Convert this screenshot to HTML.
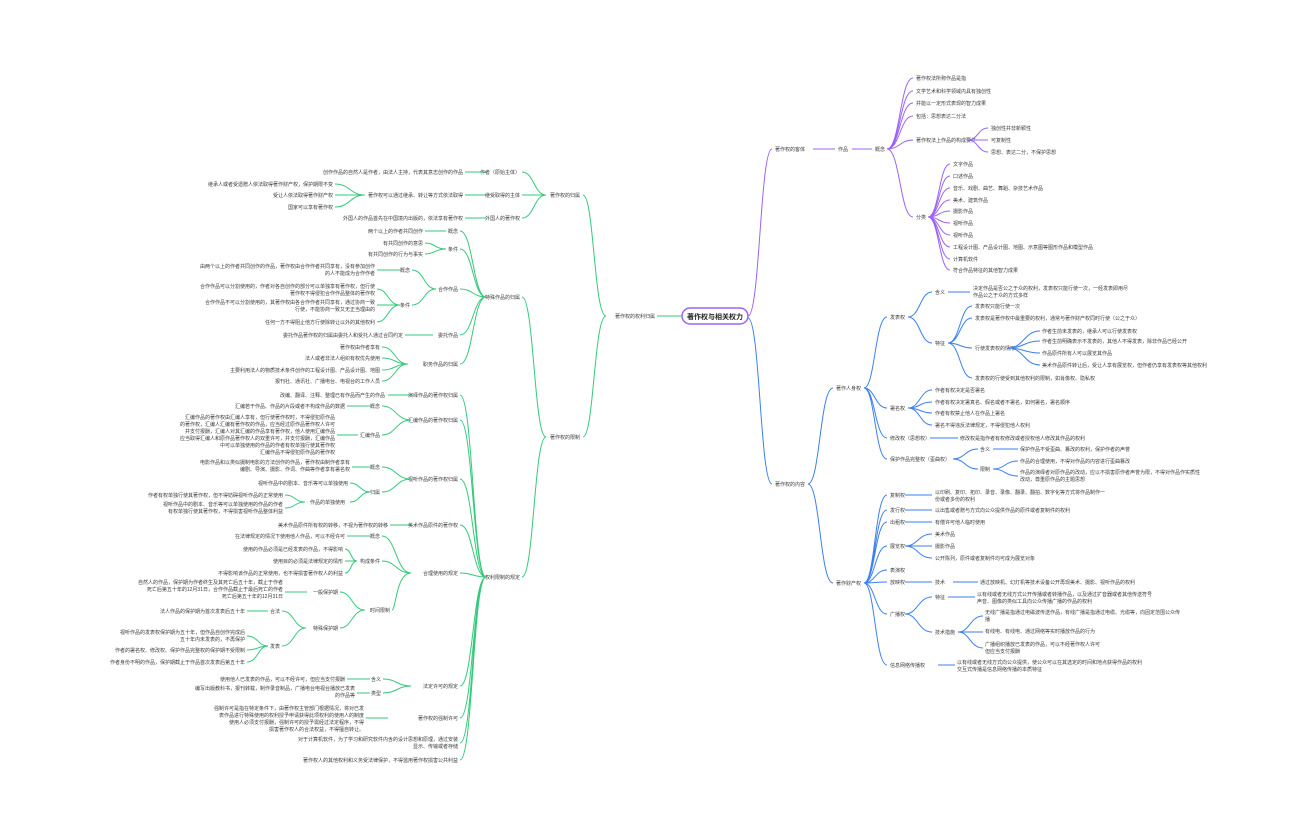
<!DOCTYPE html>
<html><head><meta charset="utf-8">
<style>
html,body{margin:0;padding:0;background:#fff;}
svg{display:block}
text{font-family:"Liberation Sans","Noto Sans CJK SC",sans-serif;font-size:5px;fill:#3a3a3a}
.e{text-anchor:end}
.p{fill:none;stroke:#9b63f5;stroke-width:1}
.b{fill:none;stroke:#3b7ff2;stroke-width:1}
.g{fill:none;stroke:#34c97b;stroke-width:1}
</style></head><body>
<svg width="1296" height="840" viewBox="0 0 1296 840" xmlns="http://www.w3.org/2000/svg">
<!-- ROOT -->
<rect x="682" y="308" width="66" height="16" rx="8" fill="#fff" stroke="#9b63f5" stroke-width="1.5"/>
<text x="715" y="319" style="font-size:7px;font-weight:bold;text-anchor:middle;fill:#222">著作权与相关权力</text>

<!-- PURPLE -->
<path class="p" d="M748 316 C760 316 760 149 772 149"/>
<text x="775" y="151">著作权的客体</text>
<path class="p" d="M813 149 H835 M852 149 H872"/>
<text x="838" y="151">作品</text>
<text x="875" y="151">概念</text>
<path class="p" d="M887 149 C900 149 900 78 913 78 M887 149 C900 149 900 91 913 91 M887 149 C900 149 900 103 913 103 M887 149 C900 149 900 116 913 116 M887 149 C900 149 900 140 913 140 M887 149 C900 149 900 217 913 217"/>
<text x="916" y="80">著作权法所称作品是指</text>
<text x="916" y="93">文学艺术和科学领域内具有独创性</text>
<text x="916" y="105">并能以一定形式表现的智力成果</text>
<text x="916" y="118">包括：思想表达二分法</text>
<text x="916" y="142">著作权法上作品的构成要件</text>
<path class="p" d="M968 140 C978 140 978 128 988 128 M968 140 H988 M968 140 C978 140 978 152 988 152"/>
<text x="991" y="130">独创性并非新颖性</text>
<text x="991" y="142">可复制性</text>
<text x="991" y="154">思想、表达二分，不保护思想</text>
<text x="916" y="219">分类</text>
<path class="p" d="M928 217 C939 217 939 164 950 164 M928 217 C939 217 939 176 950 176 M928 217 C939 217 939 188 950 188 M928 217 C939 217 939 200 950 200 M928 217 C939 217 939 211 950 211 M928 217 C939 217 939 223 950 223 M928 217 C939 217 939 235 950 235 M928 217 C939 217 939 247 950 247 M928 217 C939 217 939 259 950 259 M928 217 C939 217 939 270 950 270"/>
<text x="953" y="166">文字作品</text>
<text x="953" y="178">口述作品</text>
<text x="953" y="190">音乐、戏剧、曲艺、舞蹈、杂技艺术作品</text>
<text x="953" y="202">美术、建筑作品</text>
<text x="953" y="213">摄影作品</text>
<text x="953" y="225">视听作品</text>
<text x="953" y="237">视听作品</text>
<text x="953" y="249">工程设计图、产品设计图、地图、示意图等图形作品和模型作品</text>
<text x="953" y="261">计算机软件</text>
<text x="953" y="272">符合作品特征的其他智力成果</text>

<!-- BLUE -->
<path class="b" d="M748 318 C760 318 760 484 772 484"/>
<text x="775" y="486">著作权的内容</text>
<path class="b" d="M808 484 C820 484 820 388 833 388 M808 484 C820 484 820 583 833 583"/>
<text x="836" y="390">著作人身权</text>
<path class="b" d="M864 388 C875 388 875 317 887 317 M864 388 C875 388 875 408 887 408 M864 388 C875 388 875 438 887 438 M864 388 C875 388 875 459 887 459"/>
<text x="890" y="319">发表权</text>
<path class="b" d="M908 317 C920 317 920 292 932 292 M908 317 C920 317 920 343 932 343"/>
<text x="935" y="294">含义</text>
<path class="b" d="M948 292 H970"/>
<text x="973" y="290">决定作品是否公之于众的权利，发表权只能行使一次，一经发表即用尽</text>
<text x="973" y="297">作品公之于众的方式多样</text>
<text x="935" y="345">特征</text>
<path class="b" d="M948 343 C960 343 960 306 972 306 M948 343 C960 343 960 318 972 318 M948 343 C960 343 960 348 972 348 M948 343 C960 343 960 378 972 378"/>
<text x="975" y="308">发表权只能行使一次</text>
<text x="975" y="320">发表权是著作权中最重要的权利，通常与著作财产权同时行使（公之于众）</text>
<text x="975" y="350">行使发表权的情形</text>
<path class="b" d="M1008 348 C1024 348 1024 331 1040 331 M1008 348 C1024 348 1024 341 1040 341 M1008 348 C1024 348 1024 353 1040 353 M1008 348 C1024 348 1024 365 1040 365"/>
<text x="1042" y="333">作者生前未发表的，继承人可以行使发表权</text>
<text x="1042" y="343">作者生前明确表示不发表的，其他人不得发表，除非作品已经公开</text>
<text x="1042" y="355">作品原件所有人可以展览其作品</text>
<text x="1042" y="367">美术作品原件转让后，受让人享有展览权，但作者仍享有发表权等其他权利</text>
<text x="975" y="380">发表权的行使受到其他权利的限制，如肖像权、隐私权</text>
<text x="890" y="410">署名权</text>
<path class="b" d="M908 408 C920 408 920 390 932 390 M908 408 C920 408 920 402 932 402 M908 408 C920 408 920 413 932 413 M908 408 C920 408 920 425 932 425"/>
<text x="935" y="392">作者有权决定是否署名</text>
<text x="935" y="404">作者有权决定署真名、假名或者不署名，如何署名，署名顺序</text>
<text x="935" y="415">作者有权禁止他人在作品上署名</text>
<text x="935" y="427">署名不得违反法律规定，不得侵犯他人权利</text>
<text x="890" y="440">修改权（思想权）</text>
<path class="b" d="M930 438 H958"/>
<text x="960" y="440">修改权是指作者有权修改或者授权他人修改其作品的权利</text>
<text x="890" y="461">保护作品完整权（歪曲权）</text>
<path class="b" d="M953 459 C965 459 965 449 978 449 M953 459 C965 459 965 469 978 469"/>
<text x="980" y="451">含义</text>
<path class="b" d="M993 449 H1018"/>
<text x="1020" y="451">保护作品不受歪曲、篡改的权利，保护作者的声誉</text>
<text x="980" y="471">限制</text>
<path class="b" d="M993 469 C1005 469 1005 461 1018 461 M993 469 C1005 469 1005 476 1018 476"/>
<text x="1020" y="463">作品的合理使用，不得对作品的内容进行歪曲篡改</text>
<text x="1020" y="474">作品的演绎者对原作品的改动，应以不损害原作者声誉为限，不得对作品作实质性</text>
<text x="1020" y="481">改动，尊重原作品的主题思想</text>

<text x="836" y="585">著作财产权</text>
<path class="b" d="M864 583 C875 583 875 495 887 495 M864 583 C875 583 875 510 887 510 M864 583 C875 583 875 522 887 522 M864 583 C875 583 875 546 887 546 M864 583 C875 583 875 570 887 570 M864 583 C875 583 875 582 887 582 M864 583 C875 583 875 614 887 614 M864 583 C875 583 875 665 887 665"/>
<text x="890" y="497">复制权</text>
<path class="b" d="M905 495 H932"/>
<text x="935" y="494">以印刷、复印、拓印、录音、录像、翻录、翻拍、数字化等方式将作品制作一</text>
<text x="935" y="501">份或者多份的权利</text>
<text x="890" y="512">发行权</text>
<path class="b" d="M905 510 H932"/>
<text x="935" y="512">以出售或者赠与方式向公众提供作品的原件或者复制件的权利</text>
<text x="890" y="524">出租权</text>
<path class="b" d="M905 522 H932"/>
<text x="935" y="524">有偿许可他人临时使用</text>
<text x="890" y="548">展览权</text>
<path class="b" d="M905 546 C918 546 918 534 932 534 M905 546 H932 M905 546 C918 546 918 558 932 558"/>
<text x="935" y="536">美术作品</text>
<text x="935" y="548">摄影作品</text>
<text x="935" y="560">公开陈列，原件或者复制件均可成为展览对象</text>
<text x="890" y="572">表演权</text>
<text x="890" y="584">放映权</text>
<path class="b" d="M905 582 H932"/>
<text x="935" y="584">技术</text>
<path class="b" d="M953 582 H978"/>
<text x="980" y="584">通过放映机、幻灯机等技术设备公开再现美术、摄影、视听作品的权利</text>
<text x="890" y="616">广播权</text>
<path class="b" d="M905 614 C918 614 918 597 932 597 M905 614 C918 614 918 632 932 632"/>
<text x="935" y="599">特征</text>
<path class="b" d="M948 597 H975"/>
<text x="977" y="596">以有线或者无线方式公开传播或者转播作品，以及通过扩音器或者其他传送符号</text>
<text x="977" y="603">声音、图像的类似工具向公众传播广播的作品的权利</text>
<text x="935" y="634">技术措施</text>
<path class="b" d="M958 632 C970 632 970 616 983 616 M958 632 H983 M958 632 C970 632 970 648 983 648"/>
<text x="985" y="614">无线广播是指通过电磁波传送作品，有线广播是指通过电缆、光缆等，向固定范围公众传</text>
<text x="985" y="621">播</text>
<text x="985" y="633">有线电、有线电、通过网络等实时播放作品的行为</text>
<text x="985" y="646">广播组织播放已发表的作品，可以不经著作权人许可</text>
<text x="985" y="653">但应当支付报酬</text>
<text x="890" y="667">信息网络传播权</text>
<path class="b" d="M938 665 H955"/>
<text x="957" y="664">以有线或者无线方式向公众提供，使公众可以在其选定的时间和地点获得作品的权利</text>
<text x="957" y="671">交互式传播是信息网络传播的本质特征</text>

<!-- GREEN -->
<path class="g" d="M682 316 H657"/>
<text class="e" x="655" y="318">著作权的权利归属</text>
<path class="g" d="M606 316 C594 316 594 195 583 195 M606 316 C594 316 594 437 583 437"/>
<text class="e" x="580" y="197">著作权的归属</text>
<path class="g" d="M546 195 C534 195 534 172 522 172 M546 195 H522 M546 195 C534 195 534 218 522 218"/>
<text class="e" x="520" y="174">作者（原始主体）</text>
<text class="e" x="520" y="197">继受取得的主体</text>
<text class="e" x="520" y="220">外国人的著作权</text>
<path class="g" d="M486 172 H465 M486 195 H465 M486 218 H465"/>
<text class="e" x="463" y="174">创作作品的自然人是作者，由法人主持，代表其意志创作的作品</text>
<text class="e" x="463" y="197">著作权可以通过继承、转让等方式依法取得</text>
<text class="e" x="463" y="220">外国人的作品首先在中国境内出版的，依法享有著作权</text>
<path class="g" d="M365 195 C350 195 350 184 335 184 M365 195 H335 M365 195 C350 195 350 207 335 207"/>
<text class="e" x="333" y="186">继承人或者受遗赠人依法取得著作财产权，保护期限不变</text>
<text class="e" x="333" y="197">受让人依法取得著作财产权</text>
<text class="e" x="333" y="209">国家可以享有著作权</text>

<text class="e" x="580" y="439">著作权的限制</text>
<path class="g" d="M546 437 C534 437 534 297 522 297 M546 437 C534 437 534 577 522 577"/>
<text class="e" x="520" y="299">特殊作品的归属</text>
<path class="g" d="M486 297 C473 297 473 231 460 231 M486 297 C473 297 473 249 460 249 M486 297 C473 297 473 289 460 289 M486 297 C473 297 473 335 460 335 M486 297 C473 297 473 364 460 364"/>
<text class="e" x="458" y="233">概念</text>
<path class="g" d="M446 231 H425"/>
<text class="e" x="423" y="233">两个以上的作者共同创作</text>
<text class="e" x="458" y="251">条件</text>
<path class="g" d="M446 249 C435 249 435 243 425 243 M446 249 C435 249 435 254 425 254"/>
<text class="e" x="423" y="245">有共同创作的意思</text>
<text class="e" x="423" y="256">有共同创作的行为与事实</text>
<text class="e" x="458" y="291">合作作品</text>
<path class="g" d="M436 289 C424 289 424 270 412 270 M436 289 C424 289 424 305 412 305"/>
<text class="e" x="410" y="272">概念</text>
<path class="g" d="M400 270 H377"/>
<text class="e" x="375" y="268">由两个以上的作者共同创作的作品，著作权由合作作者共同享有，没有参加创作</text>
<text class="e" x="375" y="275">的人不能成为合作作者</text>
<text class="e" x="410" y="307">条件</text>
<path class="g" d="M400 305 C388 305 388 289 377 289 M400 305 H377 M400 305 C388 305 388 322 377 322"/>
<text class="e" x="375" y="288">合作作品可以分割使用的，作者对各自创作的部分可以单独享有著作权，但行使</text>
<text class="e" x="375" y="295">著作权不得侵犯合作作品整体的著作权</text>
<text class="e" x="375" y="304">合作作品不可以分割使用的，其著作权由各合作作者共同享有，通过协商一致</text>
<text class="e" x="375" y="311">行使，不能协商一致又无正当理由的</text>
<text class="e" x="375" y="324">任何一方不得阻止他方行使除转让以外的其他权利</text>
<text class="e" x="458" y="337">委托作品</text>
<path class="g" d="M433 335 H405"/>
<text class="e" x="403" y="337">委托作品著作权的归属由委托人和受托人通过合同约定</text>
<text class="e" x="458" y="366">职务作品的归属</text>
<path class="g" d="M408 364 C395 364 395 347 382 347 M408 364 C395 364 395 358 382 358 M408 364 C395 364 395 370 382 370 M408 364 C395 364 395 381 382 381"/>
<text class="e" x="380" y="349">著作权由作者享有</text>
<text class="e" x="380" y="360">法人或者非法人组织有权优先使用</text>
<text class="e" x="380" y="372">主要利用法人的物质技术条件创作的工程设计图、产品设计图、地图</text>
<text class="e" x="380" y="383">报刊社、通讯社、广播电台、电视台的工作人员</text>

<text class="e" x="520" y="579">权利限制的规定</text>
<path class="g" d="M486 577 C473 577 473 395 460 395 M486 577 C473 577 473 420 460 420 M486 577 C473 577 473 479 460 479 M486 577 C473 577 473 525 460 525 M486 577 C473 577 473 573 460 573 M486 577 C473 577 473 686 460 686 M486 577 C473 577 473 718 460 718 M486 577 C473 577 473 743 460 743 M486 577 C473 577 473 760 460 760"/>
<text class="e" x="458" y="397">演绎作品的著作权归属</text>
<path class="g" d="M411 395 H388"/>
<text class="e" x="385" y="397">改编、翻译、注释、整理已有作品而产生的作品</text>
<text class="e" x="458" y="422">汇编作品的著作权归属</text>
<path class="g" d="M411 420 C396 420 396 406 382 406 M411 420 C396 420 396 435 382 435"/>
<text class="e" x="380" y="408">概念</text>
<path class="g" d="M370 406 H347"/>
<text class="e" x="345" y="408">汇编若干作品、作品的片段或者不构成作品的数据</text>
<text class="e" x="380" y="437">汇编作品</text>
<path class="g" d="M358 435 H337"/>
<text class="e" x="335" y="419">汇编作品的著作权由汇编人享有，但行使著作权时，不得侵犯原作品</text>
<text class="e" x="335" y="426">的著作权，汇编人汇编有著作权的作品，应当经过原作品著作权人许可</text>
<text class="e" x="335" y="433">并支付报酬，汇编人对其汇编的作品享有著作权，他人使用汇编作品</text>
<text class="e" x="335" y="440">应当取得汇编人和原作品著作权人的双重许可，并支付报酬，汇编作品</text>
<text class="e" x="335" y="447">中可以单独使用的作品的作者有权单独行使其著作权</text>
<text class="e" x="335" y="454">汇编作品不得侵犯原作品的著作权</text>
<text class="e" x="458" y="481">视听作品的著作权归属</text>
<path class="g" d="M411 479 C396 479 396 467 382 467 M411 479 C396 479 396 492 382 492"/>
<text class="e" x="380" y="469">概念</text>
<path class="g" d="M370 467 H352"/>
<text class="e" x="350" y="464">电影作品和以类似摄制电影的方法创作的作品，著作权由制作者享有</text>
<text class="e" x="350" y="471">编剧、导演、摄影、作词、作曲等作者享有署名权</text>
<text class="e" x="380" y="494">归属</text>
<path class="g" d="M370 492 C360 492 360 483 350 483 M370 492 C360 492 360 502 350 502"/>
<text class="e" x="348" y="485">视听作品中的剧本、音乐等可以单独使用</text>
<text class="e" x="345" y="504">作品的单独使用</text>
<path class="g" d="M305 502 C295 502 295 495 285 495 M305 502 C295 502 295 508 285 508"/>
<text class="e" x="283" y="497">作者有权单独行使其著作权，但不得妨碍视听作品的正常使用</text>
<text class="e" x="283" y="506">视听作品中的剧本、音乐等可以单独使用的作品的作者</text>
<text class="e" x="283" y="513">有权单独行使其著作权，不得损害视听作品整体利益</text>
<text class="e" x="458" y="527">美术作品原件的著作权</text>
<path class="g" d="M411 525 H390"/>
<text class="e" x="388" y="527">美术作品原件所有权的转移，不视为著作权的转移</text>
<text class="e" x="458" y="575">合理使用的规定</text>
<path class="g" d="M411 573 C396 573 396 536 382 536 M411 573 C396 573 396 561 382 561 M411 573 C396 573 396 610 392 610"/>
<text class="e" x="380" y="538">概念</text>
<path class="g" d="M370 536 H347"/>
<text class="e" x="345" y="538">在法律规定的情况下使用他人作品，可以不经许可</text>
<text class="e" x="380" y="563">构成条件</text>
<path class="g" d="M357 561 C351 561 351 549 345 549 M357 561 H345 M357 561 C351 561 351 573 345 573"/>
<text class="e" x="343" y="551">使用的作品必须是已经发表的作品，不得影响</text>
<text class="e" x="343" y="563">使用目的必须是法律规定的情形</text>
<text class="e" x="343" y="575">不得影响该作品的正常使用，也不得损害著作权人的利益</text>
<text class="e" x="390" y="612">时间限制</text>
<path class="g" d="M365 610 C352 610 352 592 340 592 M365 610 C352 610 352 628 340 628"/>
<text class="e" x="338" y="594">一般保护期</text>
<path class="g" d="M307 592 H285"/>
<text class="e" x="283" y="584">自然人的作品，保护期为作者终生及其死亡后五十年，截止于作者</text>
<text class="e" x="283" y="591">死亡后第五十年的12月31日，合作作品截止于最后死亡的作者</text>
<text class="e" x="283" y="598">死亡后第五十年的12月31日</text>
<text class="e" x="338" y="630">特殊保护期</text>
<path class="g" d="M306 628 C294 628 294 611 282 611 M306 628 C294 628 294 646 282 646"/>
<text class="e" x="280" y="613">合法</text>
<path class="g" d="M268 611 H247"/>
<text class="e" x="245" y="613">法人作品的保护期为首次发表后五十年</text>
<text class="e" x="280" y="648">发表</text>
<path class="g" d="M268 646 C258 646 258 636 247 636 M268 646 C258 646 258 650 247 650 M268 646 C258 646 258 662 247 662"/>
<text class="e" x="245" y="634">视听作品的发表权保护期为五十年，但作品自创作完成后</text>
<text class="e" x="245" y="641">五十年内未发表的，不再保护</text>
<text class="e" x="245" y="652">作者的署名权、修改权、保护作品完整权的保护期不受限制</text>
<text class="e" x="245" y="664">作者身份不明的作品，保护期截止于作品首次发表后第五十年</text>
<text class="e" x="458" y="688">法定许可的规定</text>
<path class="g" d="M411 686 C397 686 397 679 383 679 M411 686 C397 686 397 693 383 693"/>
<text class="e" x="381" y="681">含义</text>
<path class="g" d="M370 679 H347"/>
<text class="e" x="345" y="681">使用他人已发表的作品，可以不经许可，但应当支付报酬</text>
<text class="e" x="381" y="695">类型</text>
<path class="g" d="M370 693 H357"/>
<text class="e" x="355" y="690">编写出版教科书，报刊转载，制作录音制品，广播电台电视台播放已发表</text>
<text class="e" x="355" y="697">的作品等</text>
<text class="e" x="458" y="720">著作权的强制许可</text>
<path class="g" d="M388 718 H366"/>
<text class="e" x="364" y="710">强制许可是指在特定条件下，由著作权主管部门根据情况，将对已发</text>
<text class="e" x="364" y="717">表作品进行特殊使用的权利授予申请获得此项权利的使用人的制度</text>
<text class="e" x="364" y="724">使用人必须支付报酬，强制许可的授予需经过法定程序，不得</text>
<text class="e" x="364" y="731">损害著作权人的合法权益，不得擅自转让。</text>
<text class="e" x="458" y="741">对于计算机软件，为了学习和研究软件内含的设计思想和原理，通过安装</text>
<text class="e" x="458" y="748">显示、传输或者存储</text>
<text class="e" x="458" y="762">著作权人的其他权利和义务受法律保护，不得滥用著作权损害公共利益</text>
</svg>
</body></html>
